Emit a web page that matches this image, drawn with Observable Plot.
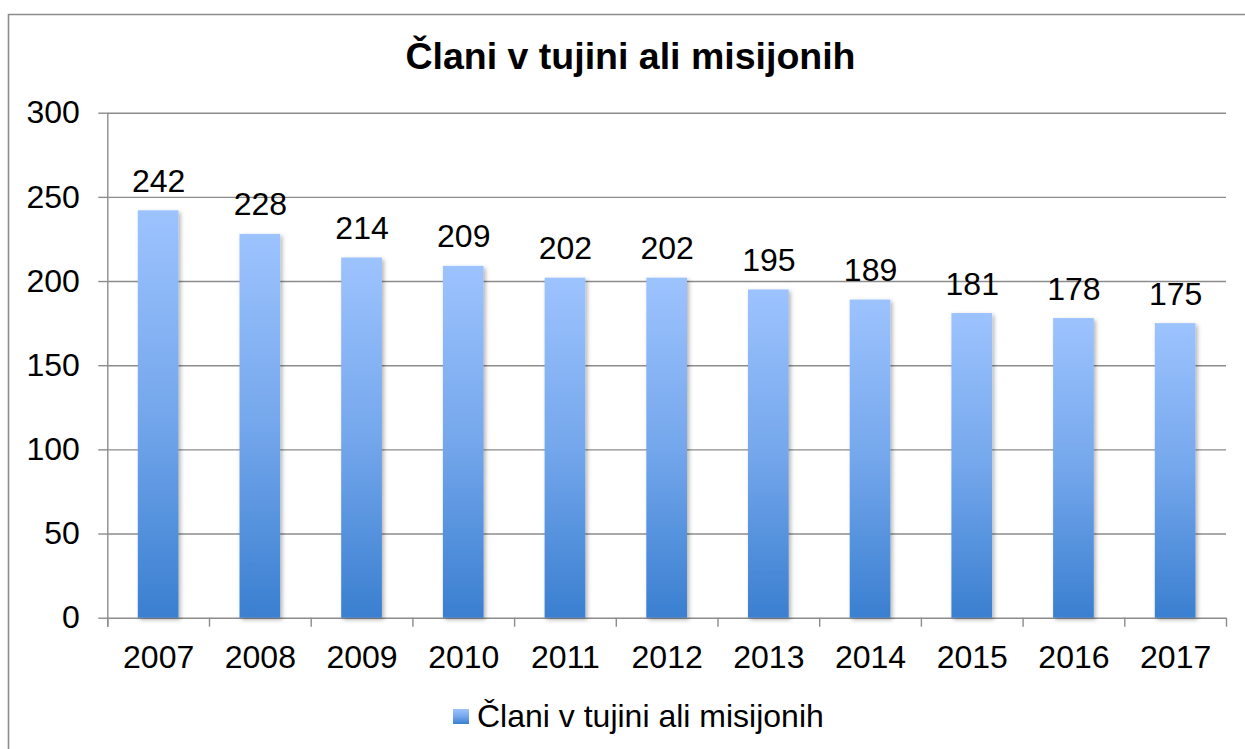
<!DOCTYPE html>
<html><head><meta charset="utf-8">
<script src="https://cdn.jsdelivr.net/npm/d3@7"></script>
<script src="https://cdn.jsdelivr.net/npm/@observablehq/plot@0.6"></script>
<style>
body{margin:0;background:#fff;}
#chart{position:relative;width:1245px;height:749px;overflow:hidden;}
</style>
</head><body><div id="chart"></div>
<script>
const chartTitle = "Člani v tujini ali misijonih";
const seriesName = "Člani v tujini ali misijonih";
const years = ["2007","2008","2009","2010","2011","2012","2013","2014","2015","2016","2017"];
const values = [242, 228, 214, 209, 202, 202, 195, 189, 181, 178, 175];
const yTicks = [0, 50, 100, 150, 200, 250, 300];

const data = years.map((year, i) => ({year, value: values[i]}));

const W = 1245, H = 749, ML = 107.3, MR = 19, MT = 112.7, MB = 131.3;
const step = (W - ML - MR) / years.length;
const font = "'Liberation Sans', Arial, Helvetica, sans-serif";
const gridColor = "#8c8c8c";
const fs = 32;

const defs = () => {
  const g = d3.create("svg:defs");
  const lg = g.append("linearGradient").attr("id", "barGrad")
    .attr("x1", 0).attr("y1", 0).attr("x2", 0).attr("y2", 1);
  lg.append("stop").attr("offset", "0%").attr("stop-color", "#9dc3fe");
  lg.append("stop").attr("offset", "50%").attr("stop-color", "#74a7ec");
  lg.append("stop").attr("offset", "100%").attr("stop-color", "#3a7fd0");
  const f = g.append("filter").attr("id", "barShadow")
    .attr("x", "-20%").attr("y", "-5%").attr("width", "150%").attr("height", "115%");
  f.append("feDropShadow").attr("dx", 2).attr("dy", 2).attr("stdDeviation", 2)
    .attr("flood-color", "#000").attr("flood-opacity", 0.3);
  return g.node();
};

const chart = Plot.plot({
  width: W, height: H,
  marginLeft: ML, marginRight: MR, marginTop: MT, marginBottom: MB,
  style: {fontFamily: font, fontSize: fs + "px", color: "#000", background: "transparent", overflow: "visible"},
  x: {domain: years, paddingInner: 0.6, paddingOuter: 0.3, round: false, label: null},
  y: {domain: [0, 300], label: null},
  marks: [
    defs,
    Plot.gridY(yTicks, {stroke: gridColor, strokeOpacity: 1, strokeWidth: 1.4}),
    Plot.axisY(yTicks, {tickSize: 9, tickPadding: 19, stroke: gridColor, strokeWidth: 1.4, fontSize: fs, fill: "#000", label: null}),
    Plot.axisX({tickSize: 0, tickPadding: 27, fontSize: fs, fill: "#000", label: null}),
    Plot.ruleX([years[0]], {dx: -step / 2, y1: 300, y2: 0, insetBottom: -9, stroke: gridColor, strokeWidth: 1.4}),
    Plot.ruleX(years, {dx: -step / 2, y1: 0, y2: 0, insetBottom: -9, stroke: gridColor, strokeWidth: 1.4}),
    Plot.ruleX([years[years.length - 1]], {dx: step / 2, y1: 0, y2: 0, insetBottom: -9, stroke: gridColor, strokeWidth: 1.4}),
    Plot.barY(data, {x: "year", y: "value", fill: "url(#barGrad)"}),
    Plot.text(data, {x: "year", y: "value", text: d => String(d.value), lineAnchor: "bottom", dy: -19, fontSize: fs, fill: "#000"})
  ]
});

const svg = d3.select(chart);
svg.selectAll("g[aria-label='bar'] rect").attr("filter", "url(#barShadow)");

// outer chart-area border
svg.append("path")
  .attr("d", `M8.5,${H + 5}V14.5H${W + 5}`)
  .attr("fill", "none").attr("stroke", gridColor).attr("stroke-width", 1.6);

// title
svg.append("text")
  .attr("x", 630.5).attr("y", 69)
  .attr("text-anchor", "middle")
  .attr("font-family", font).attr("font-size", 37.5).attr("font-weight", "bold")
  .attr("fill", "#000")
  .text(chartTitle);

// legend
const leg = svg.append("g");
leg.append("rect").attr("x", 453).attr("y", 709).attr("width", 16).attr("height", 15)
  .attr("fill", "url(#barGrad)");
leg.append("text").attr("x", 477).attr("y", 716).attr("dy", "0.35em")
  .attr("text-anchor", "start")
  .attr("font-family", font).attr("font-size", fs).attr("fill", "#000")
  .text(seriesName);

document.getElementById("chart").appendChild(chart);
</script>
</body></html>
